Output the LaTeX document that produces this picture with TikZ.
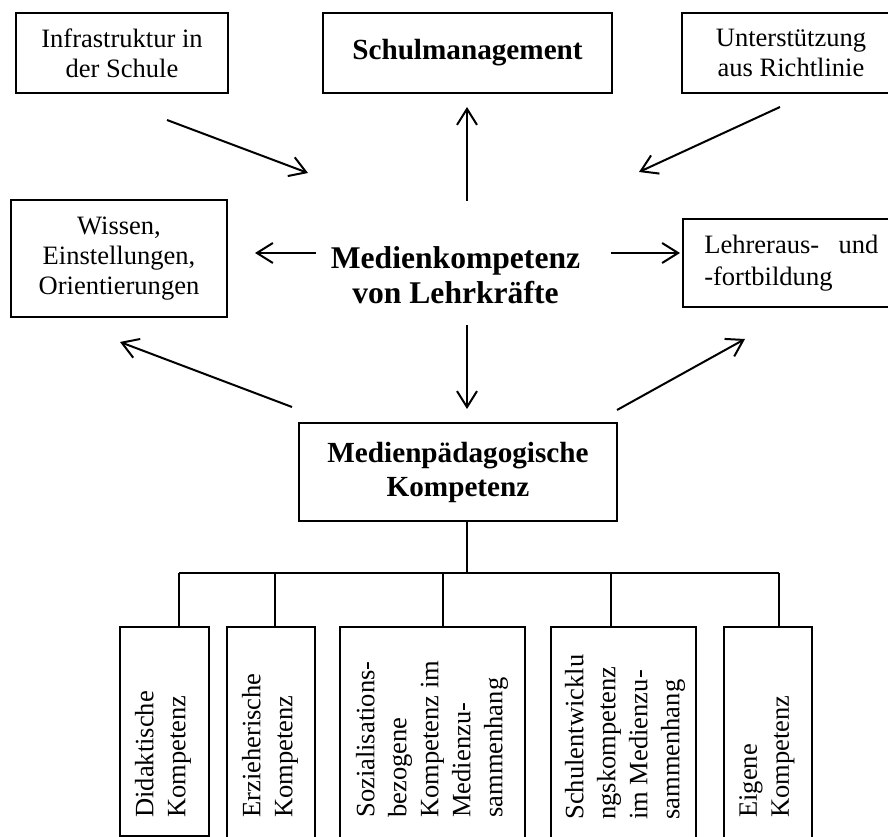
\documentclass[tikz,border=0pt]{standalone}
\usepackage{fontspec}
\setmainfont{Liberation Serif}
\usetikzlibrary{arrows.meta}
\begin{document}
\begin{tikzpicture}[x=0.75pt,y=-0.75pt,
  box/.style={draw, line width=1.5pt, inner sep=0pt, align=center},
  body/.style={font=\fontsize{19.9pt}{22.5pt}\selectfont},
  headline/.style={font=\fontsize{21.9pt}{25.5pt}\selectfont\bfseries},
  vlabel/.style={rotate=90, anchor=west, inner sep=0pt, align=left,
    font=\fontsize{19.9pt}{24pt}\selectfont},
  link/.style={line width=1.5pt,
    -{Straight Barb[length=12pt,width=15pt,line width=1.5pt]}},
  tree/.style={line width=1.5pt}
]
\useasboundingbox (0,0) rectangle (888,837);
\clip (0,0) rectangle (888,837);

% top row
\node[box, body, minimum width=159pt, minimum height=60pt] (infra) at (122,53)
  {Infrastruktur in\\der Schule};
\node[box, headline, minimum width=216.75pt, minimum height=60pt] (sm) at (467.5,53)
  {Schulmanagement};
\node[box, body, minimum width=163.5pt, minimum height=60pt] (ur) at (791,53)
  {Unterstützung\\aus Richtlinie};

% middle row
\node[box, body, minimum width=162pt, minimum height=87.75pt] (wissen) at (119,258.5)
  {Wissen,\\Einstellungen,\\Orientierungen};
\node[box, font=\fontsize{19.9pt}{24pt}\selectfont, text width=130.5pt, inner xsep=16pt,
  minimum height=66pt, align=left] (lehrer) at (791.3,263)
  {\hbox to 130.5pt{Lehreraus-\hfill und}\\-fortbildung};
\node[font=\fontsize{23.7pt}{26.25pt}\selectfont\bfseries, align=center] (mk) at (455.5,275)
  {Medienkompetenz\\von Lehrkräfte};

% Medienpaedagogische Kompetenz
\node[box, headline, minimum width=238.5pt, minimum height=73.5pt] (mp) at (458,472)
  {Medienpädagogische\\Kompetenz};

% arrow end points
\coordinate (a1s) at (167,120); \coordinate (a1e) at (308,173);
\coordinate (a2s) at (780,107); \coordinate (a2e) at (639,172);
\coordinate (a3s) at (467,201); \coordinate (a3e) at (467,107);
\coordinate (a4s) at (316,253); \coordinate (a4e) at (255,253);
\coordinate (a5s) at (611,253); \coordinate (a5e) at (680,253);
\coordinate (a6s) at (467,325); \coordinate (a6e) at (467,409);
\coordinate (a7s) at (292,407); \coordinate (a7e) at (120,342);
\coordinate (a8s) at (617,410); \coordinate (a8e) at (745,339);

\draw[link] (a1s) -- (a1e);
\draw[link] (a2s) -- (a2e);
\draw[link] (a3s) -- (a3e);
\draw[link] (a4s) -- (a4e);
\draw[link] (a5s) -- (a5e);
\draw[link] (a6s) -- (a6e);
\draw[link] (a7s) -- (a7e);
\draw[link] (a8s) -- (a8e);

% sub-competence boxes
\node[box, minimum width=66.75pt, minimum height=156.75pt] (d1) at (164.5,731.5) {};
\node[box, minimum width=66pt, minimum height=163.5pt] (d2) at (271,736) {};
\node[box, minimum width=138.75pt, minimum height=163.5pt] (d3) at (432.5,736) {};
\node[box, minimum width=108.75pt, minimum height=163.5pt] (d4) at (623.5,736) {};
\node[box, minimum width=66pt, minimum height=163.5pt] (d5) at (768,736) {};

\node[vlabel] (t1) at (163,818) {Didaktische\\Kompetenz};
\node[vlabel] (t2) at (270,818) {Erzieherische\\Kompetenz};
\node[vlabel] (t3) at (432,818) {Sozialisations-\\bezogene\\Kompetenz im\\Medienzu-\\sammenhang};
\node[vlabel] (t4) at (625,820) {Schulentwicklu\\ngskompetenz\\im Medienzu-\\sammenhang};
\node[vlabel] (t5) at (767,818) {Eigene\\Kompetenz};

% branching lines
\coordinate (hub) at (467,573);
\coordinate (j1) at (179,573);
\coordinate (j2) at (275,573);
\coordinate (j3) at (443,573);
\coordinate (j4) at (611,573);
\coordinate (j5) at (779,573);
\draw[tree] (hub |- mp.south) -- (hub);
\draw[tree] (j1) -- (j5);
\draw[tree] (j1) -- (j1 |- d1.north);
\draw[tree] (j2) -- (j2 |- d2.north);
\draw[tree] (j3) -- (j3 |- d3.north);
\draw[tree] (j4) -- (j4 |- d4.north);
\draw[tree] (j5) -- (j5 |- d5.north);
\end{tikzpicture}
\end{document}
